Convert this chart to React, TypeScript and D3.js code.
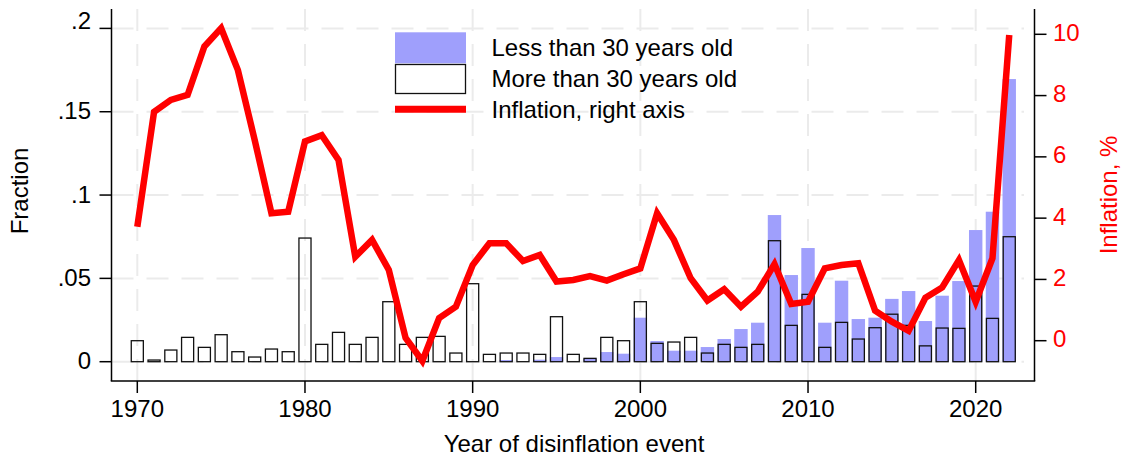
import React from "react";
import * as d3 from "d3";

const years: number[] = d3.range(1970, 2023);
const olderShare: number[] = [
  0.0126, 0.001, 0.007, 0.0146, 0.0086, 0.0162, 0.006, 0.0028, 0.0076, 0.006,
  0.0742, 0.0104, 0.0176, 0.0104, 0.0146, 0.036, 0.0104, 0.0146, 0.0152, 0.0052,
  0.0468, 0.0044, 0.0052, 0.0052, 0.0044, 0.027, 0.0044, 0.002, 0.0146, 0.0126,
  0.036, 0.011, 0.0118, 0.0146, 0.0052, 0.0104, 0.0086, 0.0104, 0.0726, 0.0218,
  0.0404, 0.0086, 0.0236, 0.0136, 0.0204, 0.0285, 0.0218, 0.0095, 0.0202, 0.02,
  0.0454, 0.026, 0.075,
];
const youngShare: number[] = [
  0, 0, 0, 0, 0, 0, 0, 0, 0, 0,
  0, 0, 0, 0, 0, 0, 0, 0, 0, 0,
  0, 0, 0.001, 0, 0.0012, 0.0028, 0, 0.0018, 0.0058, 0.0048,
  0.0264, 0.0124, 0.0066, 0.0066, 0.0088, 0.0136, 0.0196, 0.0234, 0.088, 0.052,
  0.0682, 0.0234, 0.0486, 0.0256, 0.0264, 0.0377, 0.0424, 0.0244, 0.0396, 0.0484,
  0.079, 0.09, 0.1696,
];
const inflation: number[] = [
  3.72, 7.47, 7.86, 8.02, 9.6, 10.2, 8.83, 6.55, 4.16, 4.21,
  6.5, 6.71, 5.9, 2.74, 3.29, 2.31, 0.09, -0.66, 0.74, 1.11,
  2.47, 3.18, 3.18, 2.6, 2.8, 1.93, 1.98, 2.11, 1.96, 2.17,
  2.36, 4.16, 3.29, 2.04, 1.31, 1.68, 1.11, 1.6, 2.5, 1.2,
  1.27, 2.36, 2.47, 2.53, 0.98, 0.62, 0.32, 1.4, 1.74, 2.63,
  1.27, 2.69, 9.98,
];
const leftTicks: number[] = [0, 0.05, 0.1, 0.15, 0.2];
const leftTickLabels: string[] = ["0", ".05", ".1", ".15", ".2"];
const rightTicks: number[] = [0, 2, 4, 6, 8, 10];
const xTicks: number[] = [1970, 1980, 1990, 2000, 2010, 2020];
const legendLabels: string[] = [
  "Less than 30 years old",
  "More than 30 years old",
  "Inflation, right axis",
];

const FONT = "'Liberation Sans', Arial, Helvetica, sans-serif";
const BLUE = "#9f9ffc";
const RED = "#ff0000";
const GRID = "#ebebeb";

export default function App() {
  const W = 1125;
  const H = 456;
  const axL = 111.5;
  const axR = 1034.5;
  const axB = 381;
  const axT = 9;

  const x = d3.scaleLinear().domain([1970, 2020]).range([137.3, 975.7]);
  const yL = d3.scaleLinear().domain([0, 0.2]).range([361.7, 28.4]);
  const yR = d3.scaleLinear().domain([0, 10]).range([340.7, 34.3]);
  const step = x(1971) - x(1970);
  const wBlue = step * 0.8;
  const wBox = step * 0.72;

  const line = d3
    .line<number>()
    .x((_, i) => x(years[i]))
    .y((d) => yR(d));

  const fs = 24;

  return (
    <svg
      width={W}
      height={H}
      style={{ position: "absolute", left: 0, top: 0, background: "#fff" }}
      fontFamily={FONT}
    >
      <rect x={0} y={0} width={W} height={H} fill="#fff" />
      {/* grid */}
      {leftTicks.map((t) => (
        <line
          key={"gh" + t}
          x1={axL}
          x2={1024}
          y1={yL(t)}
          y2={yL(t)}
          stroke={GRID}
          strokeWidth={2}
          strokeDasharray="22 13"
        />
      ))}
      {xTicks.map((t) => (
        <line
          key={"gv" + t}
          x1={x(t)}
          x2={x(t)}
          y1={axT}
          y2={axB}
          stroke={GRID}
          strokeWidth={2}
          strokeDasharray="22 13"
        />
      ))}
      {/* young bars */}
      {years.map((yr, i) =>
        youngShare[i] > 0 ? (
          <rect
            key={"b" + yr}
            x={x(yr) - wBlue / 2}
            y={yL(youngShare[i])}
            width={wBlue}
            height={yL(0) - yL(youngShare[i])}
            fill={BLUE}
          />
        ) : null
      )}
      {/* older bars */}
      {years.map((yr, i) => (
        <rect
          key={"o" + yr}
          x={x(yr) - wBox / 2}
          y={yL(olderShare[i])}
          width={wBox}
          height={yL(0) - yL(olderShare[i])}
          fill="none"
          stroke="#111"
          strokeWidth={1.3}
        />
      ))}
      {/* inflation line */}
      <path
        d={line(inflation) || ""}
        fill="none"
        stroke={RED}
        strokeWidth={6.5}
        strokeLinejoin="miter"
        strokeMiterlimit={6}
      />
      {/* axes */}
      <line x1={axL} x2={axL} y1={axT} y2={axB} stroke="#000" strokeWidth={1.5} />
      <line x1={axR} x2={axR} y1={axT} y2={axB} stroke="#000" strokeWidth={1.5} />
      <line x1={axL - 0.75} x2={axR + 0.75} y1={axB} y2={axB} stroke="#000" strokeWidth={1.5} />
      {leftTicks.map((t, i) => (
        <g key={"lt" + t}>
          <line x1={axL - 12} x2={axL} y1={yL(t)} y2={yL(t)} stroke="#000" strokeWidth={1.5} />
          <text
            x={91}
            y={yL(t) + (t === 0.2 ? -8 : -1)}
            textAnchor="end"
            dominantBaseline="central"
            fontSize={fs}
            fill="#000"
          >
            {leftTickLabels[i]}
          </text>
        </g>
      ))}
      {rightTicks.map((t) => (
        <g key={"rt" + t}>
          <line x1={axR} x2={axR + 12} y1={yR(t)} y2={yR(t)} stroke="#000" strokeWidth={1.5} />
          <text
            x={1053}
            y={yR(t) - 2}
            textAnchor="start"
            dominantBaseline="central"
            fontSize={fs}
            fill={RED}
          >
            {t}
          </text>
        </g>
      ))}
      {xTicks.map((t) => (
        <g key={"xt" + t}>
          <line x1={x(t)} x2={x(t)} y1={axB} y2={axB + 12} stroke="#000" strokeWidth={1.5} />
          <text x={x(t)} y={416.5} textAnchor="middle" fontSize={fs} fill="#000">
            {t}
          </text>
        </g>
      ))}
      {/* axis titles */}
      <text x={574} y={451.5} textAnchor="middle" fontSize={fs} fill="#000">
        Year of disinflation event
      </text>
      <text
        transform="translate(28,191) rotate(-90)"
        textAnchor="middle"
        fontSize={fs}
        fill="#000"
      >
        Fraction
      </text>
      <text
        transform="translate(1117,195) rotate(-90)"
        textAnchor="middle"
        fontSize={fs}
        fill={RED}
      >
        Inflation, %
      </text>
      {/* legend */}
      <rect x={395} y={32.3} width={71} height={31} fill={BLUE} />
      <rect x={395.5} y={64.5} width={70} height={29} fill="#fff" stroke="#111" strokeWidth={1.3} />
      <line x1={395} x2={466} y1={109.3} y2={109.3} stroke={RED} strokeWidth={7} />
      {legendLabels.map((lab, i) => (
        <text key={lab} x={491.5} y={47.8 + i * 31} dominantBaseline="central" fontSize={fs} fill="#000">
          {lab}
        </text>
      ))}
    </svg>
  );
}
